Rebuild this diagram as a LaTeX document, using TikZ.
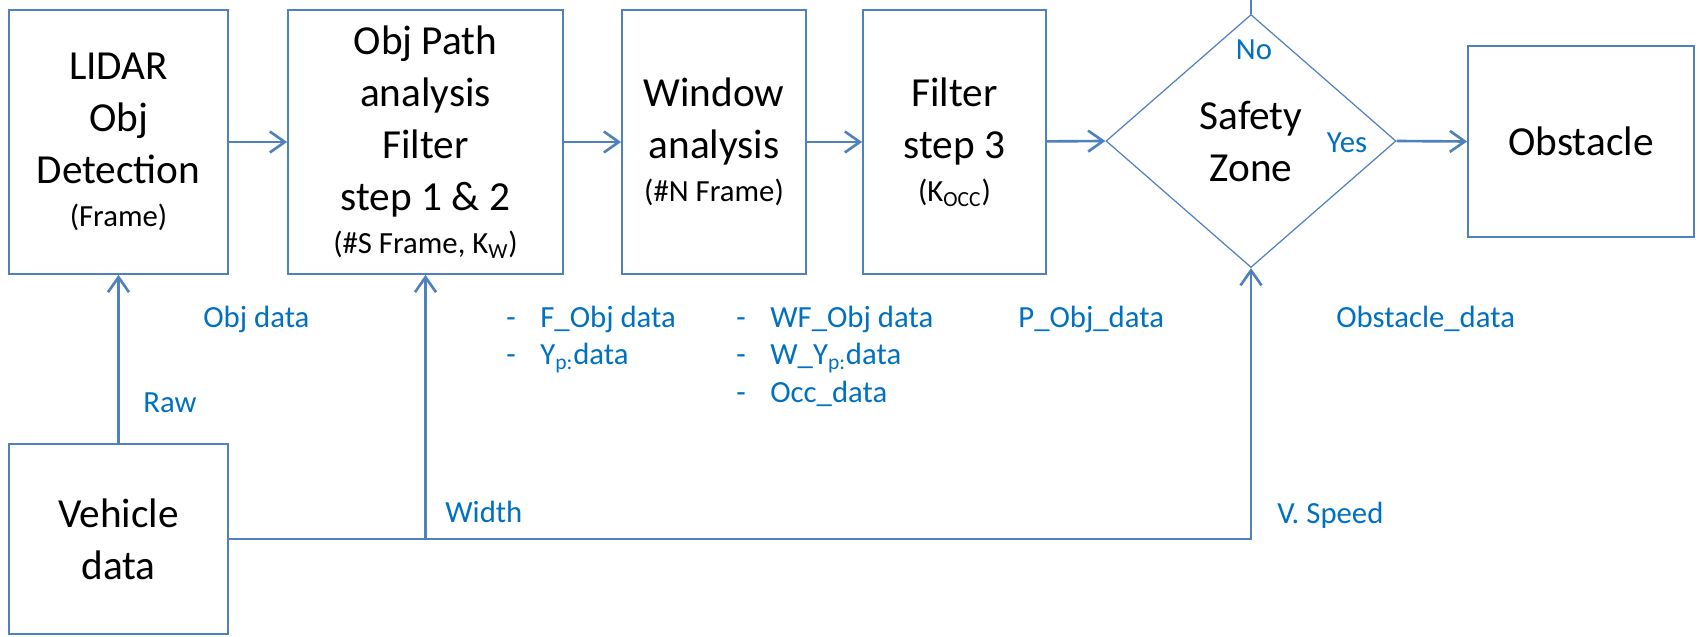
\documentclass[tikz,border=0pt]{standalone}
\usepackage{fontspec}
\setmainfont{Carlito}
\usetikzlibrary{arrows.meta, shapes.geometric, positioning}
\definecolor{edgeblue}{RGB}{79,129,189}
\definecolor{textblue}{RGB}{0,112,192}
\newcommand{\bigtxt}{\fontsize{23.5}{29.6}\selectfont}
\newcommand{\smalltxt}{\fontsize{17.5}{21.3}\selectfont}
\newcommand{\dashitem}{\makebox[0.68cm][l]{-}}
\tikzset{%
>={Straight Barb[width=4.2mm,length=3mm]},
  % Specifications for style of nodes:
            block/.style = {rectangle, draw=edgeblue, line width=1pt,
                            minimum height=5.28cm, font=\bigtxt,
                            align=center, inner sep=0pt},
            decision/.style = {diamond, draw=edgeblue, line width=0.7pt,
                            minimum width=5.8cm, minimum height=5.06cm,
                            font=\bigtxt, align=center, inner sep=0pt},
            note/.style = {font=\smalltxt, text=textblue, inner sep=0pt, align=left},
            flow/.style = {draw=edgeblue, line width=1.5pt}
}

\begin{document}
\begin{tikzpicture}
                \useasboundingbox (0,0) rectangle (34,12.72);

                % processing chain
                \node[block, minimum width=4.38cm] (lidar) at (2.37,9.88)
                    {LIDAR\\Obj\\Detection\\[-5pt]{\smalltxt (Frame)}};
                \node[block, minimum width=5.50cm] (path) at (8.51,9.88)
                    {Obj Path\\analysis\\Filter\\step 1 \& 2\\[-5pt]{\smalltxt (\#S Frame, K\textsubscript{W})}};
                \node[block, minimum width=3.68cm] (window) at (14.28,9.88)
                    {Window\\analysis\\[-5pt]{\smalltxt (\#N Frame)}};
                \node[block, minimum width=3.66cm] (filter3) at (19.09,9.88)
                    {Filter\\step 3\\[-5pt]{\smalltxt (K\textsubscript{OCC})}};
                \node[decision] (zone) at (25.02,9.90) {Safety\\Zone};
                \node[block, minimum width=4.52cm, minimum height=3.82cm] (obstacle) at (31.62,9.89) {Obstacle};
                \node[block, minimum width=4.38cm, minimum height=3.8cm] (vehicle) at (2.37,1.94) {Vehicle\\data};

                \draw[flow,->] (lidar) -- (path);
                \draw[flow,->] (path) -- (window);
                \draw[flow,->] (window) -- (filter3);
                \draw[flow,->] (filter3) -- (zone.west);
                \draw[flow,->] (zone.east) -- (obstacle.west);
                \draw[flow,->] (vehicle) -- (lidar);

                % vehicle bus
                \coordinate (tap) at (path.south |- vehicle.east);
                \coordinate (noexit) at (zone.north |- 0,12.8);
                \draw[flow,->] (vehicle.east) -| (zone.south);
                \draw[flow,->] (tap) -- (path.south);
                \draw[flow] (zone.north) -- (noexit);

                % data labels (base = last line)
                \node[note, anchor=base west] (objdata) at (4.06,6.18) {Obj data};
                \node[note, anchor=base west] (raw) at (2.86,4.48) {Raw};
                \node[note, anchor=base west] (width) at (8.90,2.28) {Width};
                \node[note, anchor=base west] (vspeed) at (25.54,2.26) {V. Speed};
                \node[note, anchor=base west] (flist) at (10.12,5.43)
                    {\dashitem F\_Obj data\\\dashitem Y\textsubscript{p:}data};
                \node[note, anchor=base west] (wflist) at (14.72,4.68)
                    {\dashitem WF\_Obj data\\\dashitem W\_Y\textsubscript{p:}data\\\dashitem Occ\_data};
                \node[note, anchor=base west] (pobj) at (20.36,6.18) {P\_Obj\_data};
                \node[note, anchor=base west] (obstdata) at (26.72,6.18) {Obstacle\_data};
                \node[note, anchor=base] (no) at (25.08,11.52) {No};
                \node[note, anchor=base] (yes) at (26.94,9.66) {Yes};

            \end{tikzpicture}
\end{document}
